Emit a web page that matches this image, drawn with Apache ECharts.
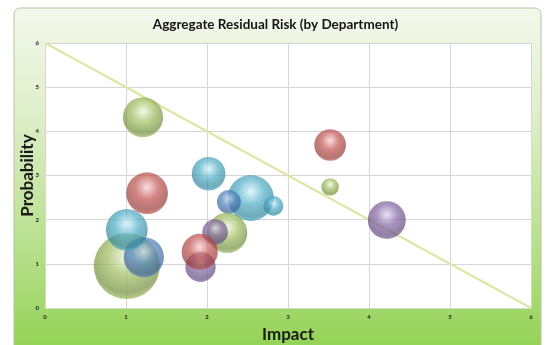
<!DOCTYPE html>
<html>
<head>
<meta charset="utf-8">
<script src="https://cdn.jsdelivr.net/npm/echarts@6/dist/echarts.min.js"></script>
<style>
  html, body { margin: 0; padding: 0; background: #ffffff; }
  #chart { width: 551px; height: 345px; }
</style>
</head>
<body>
<div id="chart"></div>
<script>
// Residual risk per department: impact (x), probability (y), exposure (bubble area)
const impact      = [1.01, 1.22, 1.01, 1.26, 1.21, 2.02, 2.54, 2.27, 2.82, 2.25, 2.10, 1.92, 1.91, 3.52, 3.52, 4.22];
const probability = [0.95, 1.15, 1.77, 2.60, 4.32, 3.04, 2.49, 2.40, 2.31, 1.70, 1.72, 0.93, 1.27, 3.69, 2.74, 1.99];
const exposure    = [100,  37,   40,   40,   37,   26,   49,   13,   9,    37,   15,   21,   30,   23,   7,    33];
const colourGroup = ['green','blue','cyan','red','green','cyan','cyan','blue','cyan','green','purple','purple','red','red','green','purple'];

// Tolerance line from (0,6) to (6,0)
const toleranceX = [0, 6];
const toleranceY = [6, 0];

const axisTicks = [0, 1, 2, 3, 4, 5, 6];

const palette = {
  green:  { light: '#eef5dc', base: '#9bbb59', dark: '#728d3e' },
  blue:   { light: '#c9d9ef', base: '#4f81bd', dark: '#3a6196' },
  cyan:   { light: '#d3f1f8', base: '#4bacc6', dark: '#33869c' },
  red:    { light: '#f3d0cf', base: '#c0504d', dark: '#943a38' },
  purple: { light: '#ddd3ea', base: '#8064a2', dark: '#5f4a7c' }
};

function sphere(p) {
  return {
    type: 'radial', x: 0.5, y: 0.36, r: 0.64,
    colorStops: [
      { offset: 0, color: p.light },
      { offset: 0.45, color: p.base },
      { offset: 0.85, color: p.dark },
      { offset: 1, color: p.base }
    ]
  };
}

const bubbles = impact.map((x, i) => ({
  value: [x, probability[i], exposure[i]],
  itemStyle: { color: sphere(palette[colourGroup[i]]), opacity: 0.7 }
}));

const chart = echarts.init(document.getElementById('chart'), null, { renderer: 'canvas' });

const fontFam = 'Lato, "Liberation Sans", sans-serif';

chart.setOption({
  animation: false,
  graphic: [{
    type: 'rect',
    z: -10,
    silent: true,
    shape: { x: 14, y: 8, width: 527, height: 345, r: 6 },
    style: {
      fill: {
        type: 'linear', x: 0, y: 0, x2: 0, y2: 1,
        colorStops: [
          { offset: 0, color: '#f3f8ec' },
          { offset: 0.3, color: '#e0efcb' },
          { offset: 0.75, color: '#b0dd82' },
          { offset: 1, color: '#92d252' }
        ]
      },
      stroke: '#b4c6a2',
      lineWidth: 1
    }
  }],
  title: {
    text: 'Aggregate Residual Risk (by Department)',
    left: 'center',
    top: 13,
    textStyle: { fontFamily: fontFam, fontSize: 13.5, fontWeight: 'bold', color: '#151515' }
  },
  grid: {
    left: 45, top: 43, width: 486, height: 265,
    outerBoundsMode: 'none',
    containLabel: false,
    show: true, backgroundColor: '#ffffff', borderWidth: 0
  },
  xAxis: {
    type: 'value',
    min: axisTicks[0], max: axisTicks[axisTicks.length - 1], interval: 1,
    name: 'Impact',
    nameLocation: 'middle',
    nameGap: 18,
    nameTextStyle: { fontFamily: fontFam, fontSize: 17, fontWeight: 'bold', color: '#1a1a1a' },
    axisLine: { show: false },
    axisTick: { show: false },
    axisLabel: { fontSize: 6, fontWeight: 'bold', color: '#222', margin: 6, fontFamily: fontFam },
    splitLine: { show: true, lineStyle: { color: '#d6d6d6', width: 1 } }
  },
  yAxis: {
    type: 'value',
    min: axisTicks[0], max: axisTicks[axisTicks.length - 1], interval: 1,
    name: 'Probability',
    nameLocation: 'middle',
    nameRotate: 90,
    nameGap: 9,
    nameMoveOverlap: false,
    nameTextStyle: { fontFamily: fontFam, fontSize: 17, fontWeight: 'bold', color: '#1a1a1a' },
    axisLine: { show: false },
    axisTick: { show: false },
    axisLabel: { fontSize: 6, fontWeight: 'bold', color: '#222', margin: 6, fontFamily: fontFam },
    splitLine: { show: true, lineStyle: { color: '#d6d6d6', width: 1 } }
  },
  series: [
    {
      type: 'line',
      data: toleranceX.map((x, i) => [x, toleranceY[i]]),
      symbol: 'none',
      lineStyle: { color: '#dfe6a4', width: 2 },
      z: 1
    },
    {
      type: 'scatter',
      data: bubbles,
      symbolSize: v => 6.6 * Math.sqrt(v[2]),
      z: 2
    }
  ]
});
</script>
</body>
</html>
